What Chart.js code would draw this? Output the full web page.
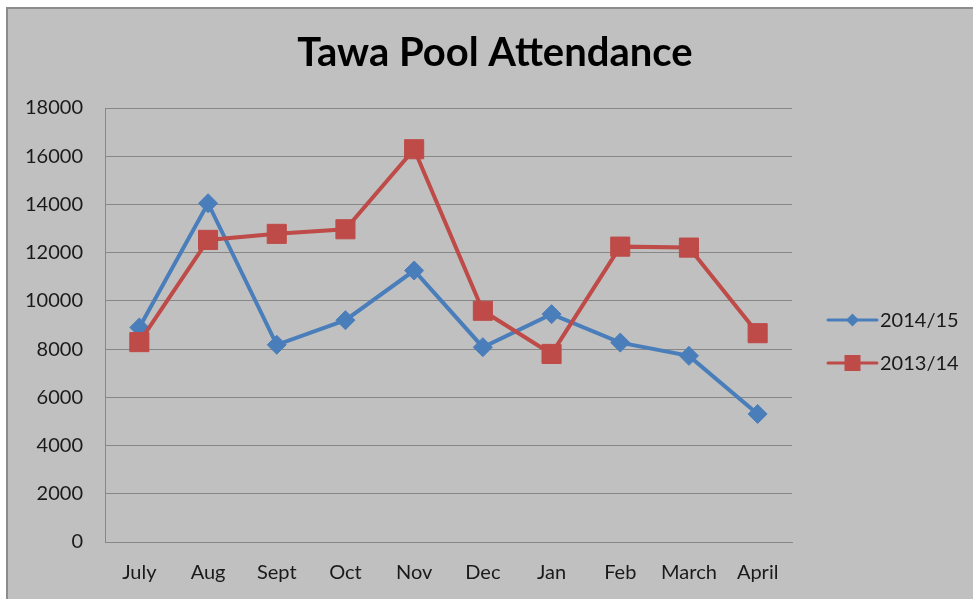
<!DOCTYPE html>
<html>
<head>
<meta charset="utf-8">
<script src="https://cdn.jsdelivr.net/npm/chart.js@4.4.1/dist/chart.umd.min.js"></script>
<style>
  html, body { margin: 0; padding: 0; background: #ffffff; }
  #attendanceChart { display: block; }
</style>
</head>
<body>
<canvas id="attendanceChart" width="973" height="599"></canvas>
<script>
const months = ['July', 'Aug', 'Sept', 'Oct', 'Nov', 'Dec', 'Jan', 'Feb', 'March', 'April'];
const attendance1415 = [8900, 14050, 8180, 9200, 11260, 8080, 9450, 8270, 7720, 5310];
const attendance1314 = [8290, 12530, 12780, 12970, 16290, 9590, 7800, 12250, 12210, 8660];
const yMin = 0;
const yMax = 18000;
const yStep = 2000;

const blue = '#4a7ebb';
const red = '#be4b48';
const gridColor = '#878787';

// Grey chart panel with the Excel-style border
const panelBackground = {
    id: 'panelBackground',
    beforeDraw(chart) {
        const ctx = chart.ctx;
        ctx.save();
        ctx.fillStyle = '#ffffff';
        ctx.fillRect(0, 0, chart.width, chart.height);
        ctx.fillStyle = '#c0c0c0';
        ctx.fillRect(7, 8, chart.width - 7, chart.height - 8);
        ctx.strokeStyle = '#8c8c8c';
        ctx.lineWidth = 2;
        ctx.beginPath();
        ctx.moveTo(7, chart.height);
        ctx.lineTo(7, 8);
        ctx.lineTo(chart.width, 8);
        ctx.stroke();
        ctx.restore();
    }
};

// Legend with line + marker like Excel
const lineLegend = {
    id: 'lineLegend',
    afterDraw(chart) {
        const ctx = chart.ctx;
        const area = chart.chartArea;
        const x0 = area.right + 36;
        const items = [
            { ds: chart.data.datasets[1], y: area.top + 212 },
            { ds: chart.data.datasets[0], y: area.top + 255 }
        ];
        ctx.save();
        items.forEach(item => {
            const ds = item.ds;
            ctx.strokeStyle = ds.borderColor;
            ctx.lineWidth = 3;
            ctx.lineCap = 'round';
            ctx.beginPath();
            ctx.moveTo(x0, item.y);
            ctx.lineTo(x0 + 49, item.y);
            ctx.stroke();
            const cx = x0 + 24.5;
            ctx.fillStyle = ds.borderColor;
            ctx.beginPath();
            if (ds.pointStyle === 'rectRot') {
                ctx.moveTo(cx - 6.5, item.y);
                ctx.lineTo(cx, item.y - 6.5);
                ctx.lineTo(cx + 6.5, item.y);
                ctx.lineTo(cx, item.y + 6.5);
                ctx.closePath();
            } else {
                ctx.rect(cx - 8, item.y - 8, 16, 16);
            }
            ctx.fill();
            ctx.fillStyle = '#1a1a1a';
            ctx.font = '20px Lato';
            ctx.textBaseline = 'middle';
            ctx.textAlign = 'left';
            ctx.fillText(ds.label, x0 + 52, item.y + 1);
        });
        ctx.restore();
    }
};

Chart.defaults.font.family = 'Lato';
Chart.defaults.color = '#1a1a1a';

const ctx = document.getElementById('attendanceChart').getContext('2d');
new Chart(ctx, {
    type: 'line',
    data: {
        labels: months,
        datasets: [
            {
                label: '2013/14',
                data: attendance1314,
                borderColor: red,
                backgroundColor: red,
                borderWidth: 4,
                tension: 0,
                pointStyle: 'rect',
                pointRadius: 13.5,
                pointBorderWidth: 1,
                pointBackgroundColor: red,
                pointBorderColor: red,
                order: 0
            },
            {
                label: '2014/15',
                data: attendance1415,
                borderColor: blue,
                backgroundColor: blue,
                borderWidth: 4,
                tension: 0,
                pointStyle: 'rectRot',
                pointRadius: 9.5,
                pointBorderWidth: 1,
                pointBackgroundColor: blue,
                pointBorderColor: blue,
                order: 1
            }
        ]
    },
    options: {
        responsive: false,
        animation: false,
        events: [],
        layout: {
            padding: { left: 17, right: 0, top: 10, bottom: 14 }
        },
        plugins: {
            legend: { display: false },
            tooltip: { enabled: false },
            title: {
                display: true,
                text: 'Tawa Pool Attendance',
                color: '#000000',
                font: { size: 40, weight: 'bold', family: 'Lato', lineHeight: 1.2 },
                padding: { top: 19, bottom: 31 }
            }
        },
        scales: {
            x: {
                offset: true,
                grid: { display: false, drawTicks: false },
                border: { display: true, color: gridColor, width: 1 },
                ticks: { font: { size: 20 }, padding: 19, maxRotation: 0, autoSkip: false },
                afterFit(scale) { scale.height = 43; }
            },
            y: {
                min: yMin,
                max: yMax,
                grid: { color: gridColor, lineWidth: 1, drawTicks: false },
                border: { display: true, color: gridColor, width: 1 },
                ticks: {
                    stepSize: yStep,
                    font: { size: 20 },
                    padding: 22,
                    callback: function(value) { return String(value); }
                },
                afterFit(scale) { scale.width = 88; }
            },
            // empty right-hand axis keeps room for the legend
            legendSpace: {
                type: 'linear',
                position: 'right',
                min: yMin,
                max: yMax,
                grid: { display: false, drawTicks: false },
                border: { display: false },
                ticks: { display: false },
                afterFit(scale) { scale.width = 181; }
            }
        }
    },
    plugins: [panelBackground, lineLegend]
});
</script>
</body>
</html>
